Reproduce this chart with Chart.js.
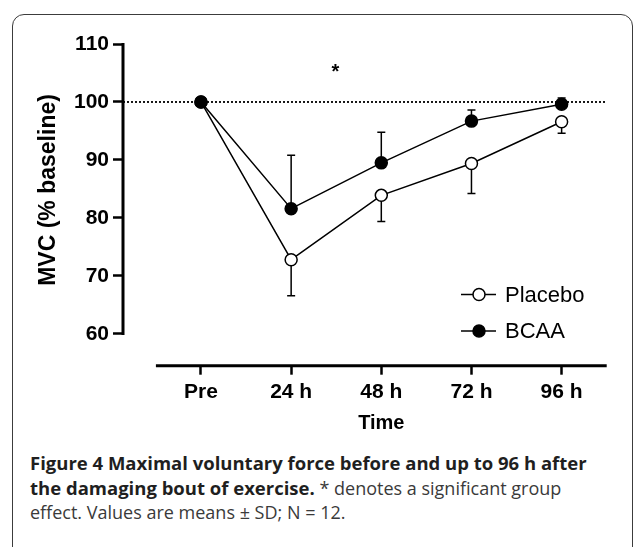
<!DOCTYPE html>
<html>
<head>
<meta charset="utf-8">
<script src="https://cdn.jsdelivr.net/npm/chart.js@4.4.1/dist/chart.umd.min.js"></script>
<style>
  html, body { margin: 0; padding: 0; background: #fff; overflow: hidden; }
  body { width: 634px; height: 547px; position: relative; }
  #frame {
    position: absolute; left: 12px; top: 14px; width: 619px; height: 600px;
    border: 1.5px solid #3c3c3c; border-radius: 12px;
  }
  #mvcChart { position: absolute; left: 0; top: 0; }
  #caption {
    position: absolute; left: 30px; top: 451px; width: 600px;
    font-family: "Open Sans", "Noto Sans", sans-serif; font-size: 18px; line-height: 24.5px;
    color: #3a3a3a; white-space: nowrap;
  }
  #caption b { color: #1f1f1f; font-weight: 700; font-size: 18.5px; }
</style>
</head>
<body>
<div id="frame"></div>
<canvas id="mvcChart" width="634" height="440"></canvas>
<div id="caption"><b>Figure 4 Maximal voluntary force before and up to 96 h after<br>the damaging bout of exercise.</b> * denotes a significant group<br>effect. Values are means ± SD; N = 12.</div>
<script>
// values
const timeLabels = ["Pre", "24 h", "48 h", "72 h", "96 h"];
const placebo = [100, 72.8, 83.9, 89.4, 96.6];
const placeboSD = [0, 6.2, 4.5, 5.2, 2.0];
const bcaa = [100, 81.6, 89.5, 96.7, 99.6];
const bcaaSD = [0, 9.2, 5.3, 1.9, 1.1];
const yTicks = [60, 70, 80, 90, 100, 110];
const baseline = 100;
// asterisk (significant group effect) position in data units
const starTime = 1.49;
const starValue = 105.9;

const FONT = "'Liberation Sans', Arial, Helvetica, sans-serif";

function toPoints(values) {
  return values.map((v, i) => ({x: i, y: v}));
}

let decor = {
  id: "decor",
  beforeDatasetsDraw(chart) {
    const {ctx, chartArea, scales: {x, y}} = chart;
    ctx.save();
    ctx.strokeStyle = "#000";

    // dotted line at baseline
    ctx.lineWidth = 1.8;
    ctx.setLineDash([2, 2]);
    ctx.beginPath();
    ctx.moveTo(chartArea.left, y.getPixelForValue(baseline));
    ctx.lineTo(x.getPixelForValue(timeLabels.length - 0.5), y.getPixelForValue(baseline));
    ctx.stroke();
    ctx.setLineDash([]);

    // detached axes (prism style)
    ctx.lineWidth = 3;
    ctx.beginPath();
    ctx.moveTo(chartArea.left, y.getPixelForValue(yTicks[0]) + 1);
    ctx.lineTo(chartArea.left, y.getPixelForValue(yTicks[yTicks.length - 1]) - 1);
    ctx.stroke();
    ctx.beginPath();
    ctx.moveTo(x.getPixelForValue(-0.5), chartArea.bottom);
    ctx.lineTo(x.getPixelForValue(timeLabels.length - 0.5), chartArea.bottom);
    ctx.stroke();

    // one-sided SD bars
    ctx.lineWidth = 1.5;
    chart.data.datasets.forEach(ds => {
      ds.data.forEach((p, i) => {
        const sd = ds.sd[i];
        if (!sd) return;
        const px = x.getPixelForValue(p.x);
        const y0 = y.getPixelForValue(p.y);
        const y1 = y.getPixelForValue(p.y + ds.errSide * sd);
        ctx.beginPath();
        ctx.moveTo(px, y0);
        ctx.lineTo(px, y1);
        ctx.moveTo(px - 4, y1);
        ctx.lineTo(px + 4, y1);
        ctx.stroke();
      });
    });
    ctx.restore();
  },
  afterDraw(chart) {
    const {ctx, chartArea, scales: {x, y}} = chart;
    ctx.save();
    ctx.fillStyle = "#000";
    ctx.strokeStyle = "#000";

    // axis titles
    ctx.font = "bold 20px " + FONT;
    ctx.textAlign = "center";
    ctx.textBaseline = "middle";
    ctx.fillText("Time", (x.getPixelForValue(-0.5) + x.getPixelForValue(timeLabels.length - 0.5)) / 2, 423);

    ctx.save();
    ctx.font = "bold 23px " + FONT;
    ctx.translate(49, (y.getPixelForValue(yTicks[0]) + y.getPixelForValue(yTicks[yTicks.length - 1])) / 2 + 1);
    ctx.rotate(-Math.PI / 2);
    ctx.fillText("MVC (% baseline)", 0, 0);
    ctx.restore();

    // asterisk
    ctx.font = "bold 20px " + FONT;
    ctx.textBaseline = "alphabetic";
    ctx.fillText("*", x.getPixelForValue(starTime), y.getPixelForValue(starValue) + 10);

    // legend
    const rows = [
      {label: "Placebo", fill: "#fff", yy: 294.5},
      {label: "BCAA", fill: "#000", yy: 331}
    ];
    ctx.font = "22px " + FONT;
    ctx.textAlign = "left";
    ctx.textBaseline = "middle";
    rows.forEach(r => {
      ctx.lineWidth = 1.5;
      ctx.beginPath();
      ctx.moveTo(461, r.yy);
      ctx.lineTo(496, r.yy);
      ctx.stroke();
      ctx.beginPath();
      ctx.arc(479, r.yy, 6, 0, Math.PI * 2);
      ctx.fillStyle = r.fill;
      ctx.fill();
      ctx.stroke();
      ctx.fillStyle = "#000";
      ctx.fillText(r.label, 505, r.yy + 1);
    });
    ctx.restore();
  }
};

let canvasElement = document.querySelector("#mvcChart");

let config = {
  type: "line",
  data: {
    datasets: [
      {
        label: "BCAA",
        data: toPoints(bcaa),
        sd: bcaaSD,
        errSide: 1,
        borderColor: "#000",
        borderWidth: 1.5,
        pointRadius: 6,
        pointBorderWidth: 1.5,
        pointBackgroundColor: "#000",
        pointBorderColor: "#000",
        tension: 0
      },
      {
        label: "Placebo",
        data: toPoints(placebo),
        sd: placeboSD,
        errSide: -1,
        borderColor: "#000",
        borderWidth: 1.5,
        pointRadius: 6,
        pointBorderWidth: 1.5,
        pointBackgroundColor: "#fff",
        pointBorderColor: "#000",
        tension: 0
      }
    ]
  },
  options: {
    responsive: false,
    animation: false,
    events: [],
    layout: {padding: {left: 0, top: 44, right: 27.3, bottom: 0}},
    plugins: {legend: {display: false}, tooltip: {enabled: false}},
    scales: {
      x: {
        type: "linear",
        min: -0.865,
        max: 4.5,
        afterBuildTicks: s => { s.ticks = timeLabels.map((_, i) => ({value: i})); },
        afterFit: s => { s.height = 74.3; },
        border: {display: false},
        grid: {drawOnChartArea: false, drawTicks: true, tickLength: 9, tickWidth: 2.5, tickColor: "#000"},
        ticks: {
          color: "#000",
          padding: 5,
          font: {family: FONT, size: 21, weight: "bold"},
          callback: v => timeLabels[v]
        }
      },
      y: {
        min: 54.52,
        max: 110,
        afterBuildTicks: s => { s.ticks = yTicks.map(v => ({value: v})); },
        afterFit: s => { s.width = 123; },
        border: {display: false},
        grid: {drawOnChartArea: false, drawTicks: true, tickLength: 10, tickWidth: 2.5, tickColor: "#000"},
        ticks: {
          color: "#000",
          padding: 4,
          font: {family: FONT, size: 21, weight: "bold"}
        }
      }
    }
  },
  plugins: [decor]
};

let mvcChart = new Chart(canvasElement, config);
</script>
</body>
</html>
